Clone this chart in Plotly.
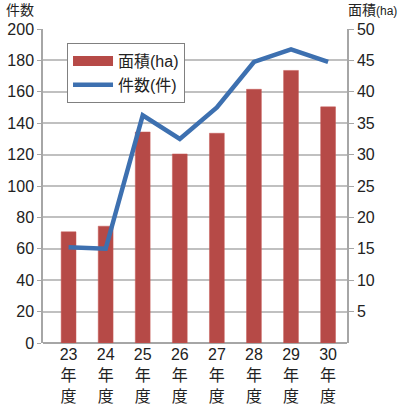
import plotly.graph_objects as go

categories = ["23<br>年<br>度", "24<br>年<br>度", "25<br>年<br>度", "26<br>年<br>度",
              "27<br>年<br>度", "28<br>年<br>度", "29<br>年<br>度", "30<br>年<br>度"]
area_ha = [17.7, 18.6, 33.6, 30.1, 33.4, 40.4, 43.4, 37.6]
counts = [61, 60, 145, 130, 150, 179, 187, 179]
left_ticks = list(range(0, 201, 20))
right_ticks = list(range(5, 51, 5))

FONT = "Liberation Sans, Arial, Noto Sans CJK JP, sans-serif"
GRID = "#c0c0c0"
AXIS = "#a6a6a6"
BAR = "#b64a47"
LINE = "#3d70b0"

fig = go.Figure()
# legend-only swatch for bars (wide rectangle look)
fig.add_trace(go.Scatter(
    x=[None], y=[None], name="面積(ha)", mode="lines",
    line=dict(color=BAR, width=11), yaxis="y",
))
fig.add_trace(go.Bar(
    x=categories, y=area_ha, name="面積(ha)", yaxis="y", showlegend=False,
    marker=dict(color=BAR, line=dict(color="#c65a57", width=0.5)),
    width=0.4,
))
fig.add_trace(go.Scatter(
    x=categories, y=counts, name="件数(件)", yaxis="y2", mode="lines",
    line=dict(color=LINE, width=4.5),
))

fig.update_layout(
    width=400, height=406,
    margin=dict(l=43, r=53, t=29, b=63, autoexpand=False),
    paper_bgcolor="white", plot_bgcolor="white",
    font=dict(family=FONT, size=16, color="#222222"),
    showlegend=True,
    legend=dict(x=0.079, y=0.955, xanchor="left", yanchor="top",
                bgcolor="white", bordercolor="#808080", borderwidth=1,
                font=dict(size=16), itemwidth=40, tracegroupgap=0),
    xaxis=dict(type="category", range=[-0.69, 7.51], showgrid=False,
               showline=False, ticks="", tickfont=dict(size=16), automargin=False),
    yaxis=dict(side="right", range=[0, 50], tickvals=right_ticks,
               showgrid=True, gridcolor=GRID, gridwidth=1.5,
               showline=True, linecolor=AXIS, linewidth=1.5,
               ticks="outside", ticklen=5, tickcolor=AXIS,
               zeroline=True, zerolinecolor=AXIS, zerolinewidth=1.5, automargin=False),
    yaxis2=dict(side="left", overlaying="y", range=[0, 200], tickvals=left_ticks,
                showgrid=False, showline=True, linecolor=AXIS, linewidth=1.5,
                ticks="outside", ticklen=4, tickcolor=AXIS, zeroline=False, automargin=False),
    annotations=[
        dict(text="件数", xref="paper", yref="paper", x=-0.128, y=1.092,
             xanchor="left", yanchor="top", showarrow=False,
             font=dict(size=14, family=FONT)),
        dict(text="面積<span style='font-size:12px'>(ha)</span>", xref="paper", yref="paper",
             x=1.172, y=1.092, xanchor="right", yanchor="top", showarrow=False,
             font=dict(size=14, family=FONT)),
    ],
)

fig.write_html("out.html")
